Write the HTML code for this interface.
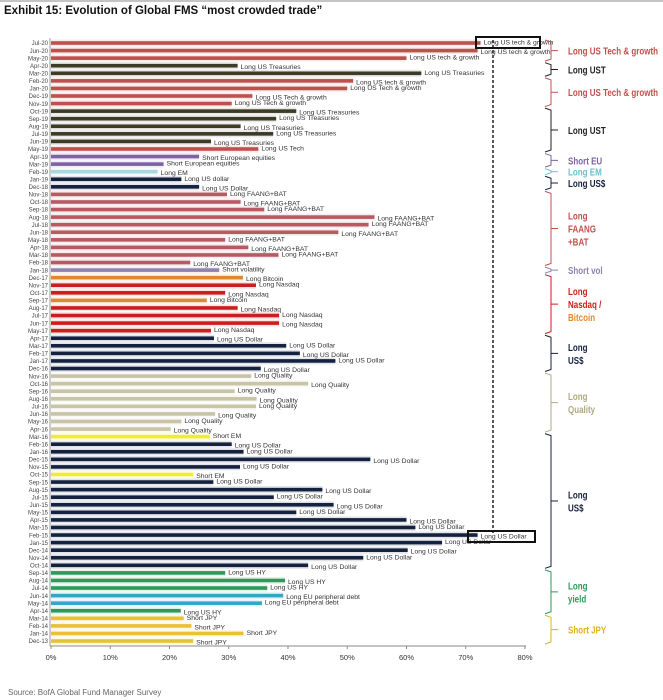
<!DOCTYPE html>
<html><head><meta charset="utf-8">
<style>
body{margin:0;background:#fff;width:663px;height:700px;overflow:hidden;font-family:"Liberation Sans Narrow","Liberation Sans",sans-serif;}
svg{position:absolute;left:0;top:0}
</style></head>
<body>
<svg id="chart" width="663" height="700" xmlns="http://www.w3.org/2000/svg">
<line x1="0" y1="1" x2="663" y2="1" stroke="#888" stroke-width="1"/>
<text x="4" y="14" font-size="11.5" font-weight="bold" fill="#111">Exhibit 15: Evolution of Global FMS “most crowded trade”</text>
<text x="8" y="695" font-size="8" fill="#666">Source: BofA Global Fund Manager Survey</text>
<g id="bars"></g>
</svg>
<script>
const categories=["Jul-20","Jun-20","May-20","Apr-20","Mar-20","Feb-20","Jan-20","Dec-19","Nov-19","Oct-19","Sep-19","Aug-19","Jul-19","Jun-19","May-19","Apr-19","Mar-19","Feb-19","Jan-19","Dec-18","Nov-18","Oct-18","Sep-18","Aug-18","Jul-18","Jun-18","May-18","Apr-18","Mar-18","Feb-18","Jan-18","Dec-17","Nov-17","Oct-17","Sep-17","Aug-17","Jul-17","Jun-17","May-17","Apr-17","Mar-17","Feb-17","Jan-17","Dec-16","Nov-16","Oct-16","Sep-16","Aug-16","Jul-16","Jun-16","May-16","Apr-16","Mar-16","Feb-16","Jan-16","Dec-15","Nov-15","Oct-15","Sep-15","Aug-15","Jul-15","Jun-15","May-15","Apr-15","Mar-15","Feb-15","Jan-15","Dec-14","Nov-14","Oct-14","Sep-14","Aug-14","Jul-14","Jun-14","May-14","Apr-14","Mar-14","Feb-14","Jan-14","Dec-13"];
const values=[72.5,72,60,31.5,62.5,51,50,34,30.5,41.4,38,32,37.5,27,35,25,19,18,22,25,29.7,32,36,54.6,53.6,48.5,29.4,33.3,38.4,23.5,28.4,32.4,34.6,29.4,26.3,31.5,38.5,38.5,27,27.5,39.7,42,48,35.4,33.8,43.4,31,34.7,34.6,27.7,22,20.2,26.8,30.5,32.5,53.9,31.9,24,27.4,45.8,37.6,47.7,41.4,60,61.5,72,66,60.2,52.7,43.4,29.4,39.5,36.5,39.2,35.6,21.9,22.4,23.7,32.5,24];
const trades=["Long US tech & growth","Long US tech & growth","Long US tech & growth","Long US Treasuries","Long US Treasuries","Long US tech & growth","Long US Tech & growth","Long US Tech & growth","Long US Tech & growth","Long US Treasuries","Long US Treasuries","Long US Treasuries","Long US Treasuries","Long US Treasuries","Long US Tech","Short European equities","Short European equities","Long EM","Long US dollar","Long US Dollar","Long FAANG+BAT","Long FAANG+BAT","Long FAANG+BAT","Long FAANG+BAT","Long FAANG+BAT","Long FAANG+BAT","Long FAANG+BAT","Long FAANG+BAT","Long FAANG+BAT","Long FAANG+BAT","Short volatility","Long Bitcoin","Long Nasdaq","Long Nasdaq","Long Bitcoin","Long Nasdaq","Long Nasdaq","Long Nasdaq","Long Nasdaq","Long US Dollar","Long US Dollar","Long US Dollar","Long US Dollar","Long US Dollar","Long Quality","Long Quality","Long Quality","Long Quality","Long Quality","Long Quality","Long Quality","Long Quality","Short EM","Long US Dollar","Long US Dollar","Long US Dollar","Long US Dollar","Short EM","Long US Dollar","Long US Dollar","Long US Dollar","Long US Dollar","Long US Dollar","Long US Dollar","Long US Dollar","Long US Dollar","Long US Dollar","Long US Dollar","Long US Dollar","Long US Dollar","Long US HY","Long US HY","Long US HY","Long EU peripheral debt","Long EU peripheral debt","Long US HY","Short JPY","Short JPY","Short JPY","Short JPY"];
const tickLabels=["0%","10%","20%","30%","40%","50%","60%","70%","80%"];
const tickValues=[0,10,20,30,40,50,60,70,80];

const NS="http://www.w3.org/2000/svg";
const svg=document.getElementById('chart');
const X0=51,X1=525,XMAX=80,Y0=43,ROW=7.57;
const xs=v=>X0+(v/XMAX)*(X1-X0);
const ys=i=>Y0+i*ROW;
function mk(t,a){const e=document.createElementNS(NS,t);for(const k in a)e.setAttribute(k,a[k]);svg.appendChild(e);return e;}
function colorOf(t){
 if(/tech/i.test(t))return "#c0504d";
 if(/Treasur/.test(t))return "#3d3b26";
 if(/European/.test(t))return "#7e62a3";
 if(t==="Long EM")return "#a8d8de";
 if(/FAANG/.test(t))return "#b85a62";
 if(/volatility/.test(t))return "#8f82ad";
 if(/Bitcoin/.test(t))return "#e0892c";
 if(/Nasdaq/.test(t))return "#cc1e1e";
 if(/Quality/.test(t))return "#c9c4a8";
 if(t==="Short EM")return "#eeee30";
 if(/HY/.test(t))return "#2b9a5a";
 if(/peripheral/.test(t))return "#35a6c6";
 if(/JPY/.test(t))return "#e8c235";
 return "#14213f";
}
let e;
e=mk('line',{x1:X0-1,y1:38,x2:X0-1,y2:646,stroke:'#999','stroke-width':1});

e=mk('line',{x1:X0-1,y1:646,x2:X1+1,y2:646,stroke:'#888','stroke-width':1});

tickValues.forEach((v,i)=>{
 const t=mk('line',{x1:xs(v),y1:646,x2:xs(v),y2:649,stroke:'#888'});
 
 const l=mk('text',{x:xs(v),y:660,'font-size':7.5,'text-anchor':'middle',fill:'#333'});
 l.textContent=tickLabels[i];
 
});
categories.forEach((c,i)=>{
 const y=ys(i);
 const col=colorOf(trades[i]);
 const bg=mk('rect',{x:X0,y:y-3.5,width:xs(values[i])-X0,height:7,fill:col,opacity:0.12});
 
 const r=mk('rect',{x:X0,y:y-1.8,width:xs(values[i])-X0,height:3.6,fill:col});
 
 const m=mk('text',{x:X0-3,y:y+2.2,'font-size':6,'text-anchor':'end',fill:'#444'});
 m.textContent=c;
 
 const lb=mk('text',{x:xs(values[i])+3,y:y+(i%2?3.5:1.5),'font-size':6.8,fill:'#333'});
 lb.textContent=trades[i];
 
});
e=mk('line',{x1:493,y1:40,x2:493,y2:535,stroke:'#222','stroke-width':1.5,'stroke-dasharray':'3,2'});

e=mk('rect',{x:476,y:37,width:64,height:11,fill:'none',stroke:'#111','stroke-width':2});

e=mk('rect',{x:468,y:531,width:67,height:11,fill:'none',stroke:'#111','stroke-width':2});

const groups=[[0,2,"#c0504d",["Long US Tech & growth"]],[3,4,"#222",["Long UST"]],[5,8,"#c0504d",["Long US Tech & growth"]],[9,14,"#222",["Long UST"]],[15,16,"#7e62a3",["Short EU"]],[17,17,"#6cc0cc",["Long EM"]],[18,19,"#14213f",["Long US$"]],[20,29,"#c0504d",["Long","FAANG","+BAT"]],[30,30,"#8f82ad",["Short vol"]],[31,38,"#cc1e1e",["Long","Nasdaq /","Bitcoin"]],[39,43,"#14213f",["Long","US$"]],[44,51,"#b0aa80",["Long","Quality"]],[52,69,"#14213f",["Long","US$"]],[70,75,"#2b9a5a",["Long","yield"]],[76,79,"#e0b020",["Short JPY"]]];
groups.forEach(g=>{
 const y1=ys(g[0])-3,y2=ys(g[1])+3,ym=(y1+y2)/2;
 const p=mk('path',{d:`M545 ${y1} L551 ${y1+2} L551 ${y2-2} L545 ${y2} M551 ${ym} L558 ${ym}`,fill:'none',stroke:g[2],'stroke-width':1});
 
 const n=g[3].length,lh=13;
 g[3].forEach((s,k)=>{
  const t=mk('text',{x:0,y:0,'font-size':10,'font-weight':'bold',fill:(s==="Bitcoin"?"#e0892c":g[2]),transform:`translate(568 ${ym+4+(k-(n-1)/2)*lh}) scale(0.8 1)`});
  t.textContent=s;
  
 });
});
</script>
</body></html>
